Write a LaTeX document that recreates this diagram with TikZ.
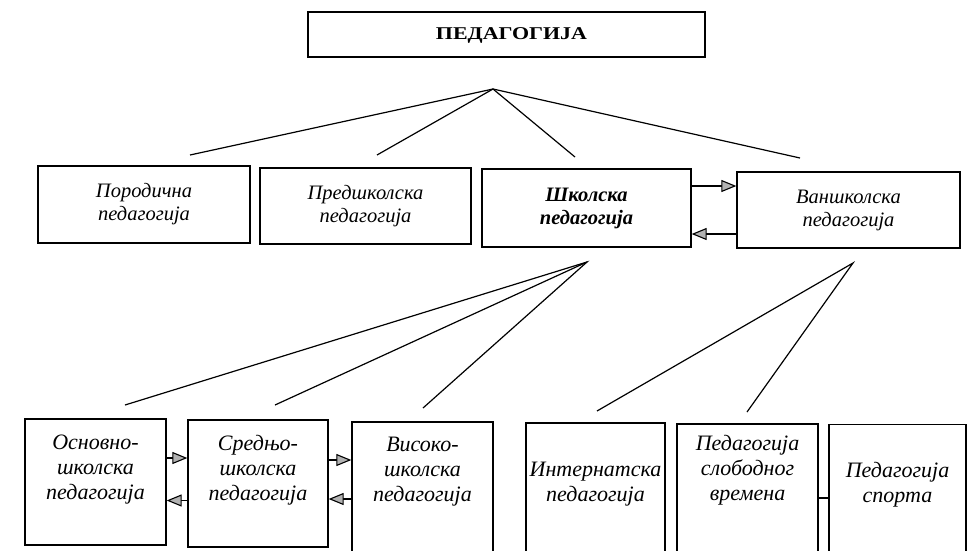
\documentclass[tikz,border=0pt]{standalone}
\usepackage{fontspec}
\setmainfont{Liberation Serif}
\usetikzlibrary{arrows.meta,calc}
\begin{document}
\begin{tikzpicture}[x=1pt,y=-1pt,
  box/.style={draw=black,line width=1.3pt,inner sep=0pt,minimum width=#1},
  lbl/.style={font=\fontsize{20.5}{23}\selectfont\itshape,align=center,inner sep=0pt},
  blbl/.style={font=\fontsize{22}{25}\selectfont\itshape,align=center,inner sep=0pt},
  ln/.style={line width=1.2pt},
  arr/.style={line width=1.2pt,-{Triangle[length=15pt,width=12pt,fill=gray!60,line width=1.1pt]}}]
\clip (0,0) rectangle (969,550);
\fill[white] (0,0) rectangle (969,550);
% top
\node[box=397pt,minimum height=45pt] (T) at (506.5,34.5) {};
\node[inner sep=0pt,font=\fontsize{18}{20}\selectfont\bfseries] (Tt) at (511.5,35) {\scalebox{1.22}[1]{ПЕДАГОГИЈА}};
% middle row
\node[box=212pt,minimum height=77pt,lbl] (A) at (144,204.5) {Породична\\педагогија};
\node[box=211pt,minimum height=76pt,lbl] (B) at (365.5,206) {Предшколска\\педагогија};
\node[box=209pt,minimum height=78pt,lbl,font=\fontsize{20.5}{23}\selectfont\bfseries\itshape] (C) at (586.5,208) {Школска\\педагогија};
\node[box=223pt,minimum height=76pt,lbl] (D) at (848.5,210) {Ваншколска\\педагогија};
% bottom row boxes
\node[box=141pt,minimum height=126pt] (E) at (95.5,482) {};
\node[box=140pt,minimum height=127pt] (F) at (258,483.5) {};
\node[box=141pt,minimum height=132pt] (G) at (422.5,488) {};
\node[box=139pt,minimum height=132pt] (H) at (595.5,489) {};
\node[box=141pt,minimum height=132pt] (I) at (747.5,490) {};
\node[box=137pt,minimum height=132pt] (J) at (897.5,490.5) {};
\node[blbl] (Et) at (95.5,470) {Основно-\\школска\\педагогија};
\node[blbl] (Ft) at (258,470) {Средњо-\\школска\\педагогија};
\node[blbl] (Gt) at (422.5,471.5) {Високо-\\школска\\педагогија};
\node[blbl] (Ht) at (595.5,484) {Интернатска\\педагогија};
\node[blbl] (It) at (747.5,470.5) {Педагогија\\слободног\\времена};
\node[blbl] (Jt) at (897.5,484.5) {Педагогија\\спорта};
% connector points
\coordinate (ap1) at (493,89);
\coordinate (a1) at (190,155);
\coordinate (a2) at (377,155);
\coordinate (a3) at (575,157);
\coordinate (a4) at (800,158);
\coordinate (ap2) at (587,262);
\coordinate (b1) at (125,405);
\coordinate (b2) at (275,405);
\coordinate (b3) at (423,408);
\coordinate (ap3) at (853,263);
\coordinate (c1) at (597,411);
\coordinate (c2) at (747,412);
\draw[ln] (a1) -- (ap1) -- (a4);
\draw[ln] (a2) -- (ap1) -- (a3);
\draw[ln] (b1) -- (ap2) -- (b3);
\draw[ln] (b2) -- (ap2);
\draw[ln] (c1) -- (ap3) -- (c2);
% arrows
\draw[arr] ([yshift=22pt]C.east) -- ([yshift=22pt]C.east -| D.west);
\draw[arr] ([yshift=-24pt]D.west) -- ([yshift=-24pt]D.west -| C.east);
\draw[arr] ([yshift=24pt]E.east) -- ([yshift=24pt]E.east -| F.west);
\draw[arr] ([yshift=-17pt]F.west) -- ([yshift=-17pt]F.west -| E.east);
\draw[arr] ([yshift=23.5pt]F.east) -- ([yshift=23.5pt]F.east -| G.west);
\draw[arr] ([yshift=-11pt]G.west) -- ([yshift=-11pt]G.west -| F.east);
\draw[ln] ([yshift=-8pt]I.east) -- ([yshift=-8pt]I.east -| J.west);
\end{tikzpicture}
\end{document}
